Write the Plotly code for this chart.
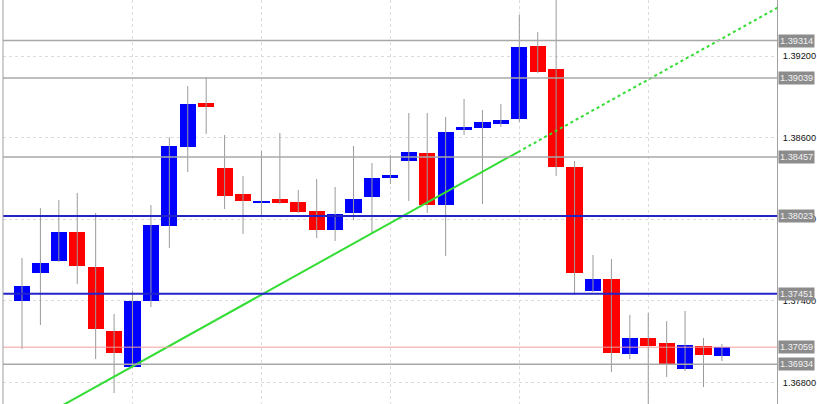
import plotly.graph_objects as go

# ---- data ----
opens  = [1.37398, 1.37604, 1.37693, 1.37906, 1.37649, 1.37178, 1.36913, 1.37398, 1.37950, 1.38531,
          1.38854, 1.38377, 1.38185, 1.38119, 1.38149, 1.38127, 1.38060, 1.37921, 1.38046, 1.38163,
          1.38303, 1.38428, 1.38487, 1.38104, 1.38656, 1.38671, 1.38700, 1.38737, 1.39274, 1.39104,
          1.38384, 1.37472, 1.37560, 1.37009, 1.37127, 1.37090, 1.36899, 1.37068, 1.36994]
highs  = [1.37715, 1.38082, 1.38141, 1.38193, 1.38046, 1.37303, 1.37472, 1.38104, 1.38604, 1.38979,
          1.39046, 1.38619, 1.38318, 1.38502, 1.38634, 1.38215, 1.38296, 1.38237, 1.38538, 1.38413,
          1.38472, 1.38781, 1.38781, 1.38752, 1.38884, 1.38803, 1.38847, 1.39502, 1.39376, 1.39660,
          1.38428, 1.37737, 1.37707, 1.37296, 1.37310, 1.37251, 1.37325, 1.37127, 1.37082]
lows   = [1.37046, 1.37222, 1.37685, 1.37524, 1.36972, 1.36722, 1.36906, 1.37354, 1.37788, 1.38347,
          1.38627, 1.38075, 1.37891, 1.38024, 1.38112, 1.38046, 1.37862, 1.37840, 1.37994, 1.37899,
          1.38259, 1.38134, 1.38046, 1.37729, 1.38619, 1.38112, 1.38678, 1.38715, 1.39075, 1.38318,
          1.37443, 1.37465, 1.36876, 1.36972, 1.36600, 1.36840, 1.36884, 1.36766, 1.36957]
closes = [1.37509, 1.37678, 1.37906, 1.37656, 1.37193, 1.37016, 1.37398, 1.37957, 1.38538, 1.38847,
          1.38825, 1.38171, 1.38134, 1.38134, 1.38119, 1.38053, 1.37921, 1.38038, 1.38149, 1.38303,
          1.38325, 1.38494, 1.38104, 1.38641, 1.38678, 1.38715, 1.38729, 1.39266, 1.39082, 1.38384,
          1.37604, 1.37560, 1.37016, 1.37127, 1.37068, 1.36928, 1.37075, 1.37002, 1.37060]

grey_levels = [1.39314, 1.39039, 1.38457, 1.36934]
blue_levels = [1.38023, 1.37451]
red_levels = [1.37059]

tick_vals = [1.368, 1.374, 1.380, 1.386, 1.392]
vgrid_idx = [6, 13, 20, 27, 34]

trend_x = [2.33, 26.93]
trend_y = [1.36641, 1.38494]
trend_end_x = 41.5

UP = "#0000ff"
DOWN = "#ff0000"

n = len(opens)
idx = list(range(n))

fig = go.Figure()

# wicks
wx, wy = [], []
for i in idx:
    wx += [i, i, None]
    wy += [highs[i], lows[i], None]
fig.add_trace(go.Scatter(x=wx, y=wy, mode="lines", line=dict(color="#9a9a9a", width=1),
                         hoverinfo="skip", showlegend=False))

# bodies
base = [min(o, c) for o, c in zip(opens, closes)]
height = [max(abs(c - o), 0.00012) for o, c in zip(opens, closes)]
colors = [UP if c >= o else DOWN for o, c in zip(opens, closes)]
fig.add_trace(go.Bar(x=idx, y=height, base=base, width=0.88,
                     marker=dict(color=colors, line=dict(width=0)), showlegend=False))

# trend line
slope = (trend_y[1] - trend_y[0]) / (trend_x[1] - trend_x[0])
x_start = 0.0
fig.add_trace(go.Scatter(x=[x_start, trend_x[1]],
                         y=[trend_y[0] + slope * (x_start - trend_x[0]), trend_y[1]],
                         mode="lines", line=dict(color="#33dd33", width=2), showlegend=False))
fig.add_trace(go.Scatter(x=[trend_x[1], trend_end_x],
                         y=[trend_y[1], trend_y[1] + slope * (trend_end_x - trend_x[1])],
                         mode="lines", line=dict(color="#33dd33", width=2, dash="dot"), showlegend=False))

shapes = []
annotations = []
for lv in grey_levels:
    shapes.append(dict(type="line", xref="paper", x0=0, x1=1, yref="y", y0=lv, y1=lv,
                       line=dict(color="#a8a8a8", width=1.5)))
for lv in blue_levels:
    shapes.append(dict(type="line", xref="paper", x0=0, x1=1, yref="y", y0=lv, y1=lv,
                       line=dict(color="#2323c8", width=2)))
for lv in red_levels:
    shapes.append(dict(type="line", xref="paper", x0=0, x1=1, yref="y", y0=lv, y1=lv,
                       line=dict(color="#f2a0a0", width=1)))
# left border
shapes.append(dict(type="line", xref="paper", x0=0, x1=0, yref="paper", y0=0, y1=1,
                   line=dict(color="#a0a0a0", width=1)))

for lv in grey_levels + blue_levels + red_levels:
    annotations.append(dict(xref="paper", x=1, xanchor="left", xshift=1, yref="y", y=lv,
                            text=f"{lv:.5f}", showarrow=False, bgcolor="#8c8c8c",
                            font=dict(family="Liberation Sans, Arial", size=9.2, color="#f2f2f2"),
                            borderpad=1))

fig.update_layout(
    width=817, height=404,
    margin=dict(l=3, r=40, t=0, b=0, autoexpand=False),
    paper_bgcolor="white", plot_bgcolor="white",
    shapes=shapes, annotations=annotations,
    bargap=0,
    xaxis=dict(range=[-1.031, 40.99], showticklabels=False, ticks="",
               tickvals=vgrid_idx, showgrid=True, gridcolor="#dcdcdc", griddash="dot",
               zeroline=False, showline=False, fixedrange=True, automargin=False),
    yaxis=dict(range=[1.366412, 1.396118], side="right", tickvals=tick_vals,
               tickformat=".5f", ticks="", ticklabelstandoff=3, automargin=False,
               tickfont=dict(family="Liberation Sans, Arial", size=9.2, color="#111"),
               showgrid=True, gridcolor="#dcdcdc", griddash="dot", fixedrange=True,
               zeroline=False, showline=True, linecolor="#a0a0a0", linewidth=1),
    showlegend=False,
)

fig.write_html("out.html", config={"displayModeBar": False},
               post_script="document.body.style.margin='0';document.body.style.overflow='hidden';")
